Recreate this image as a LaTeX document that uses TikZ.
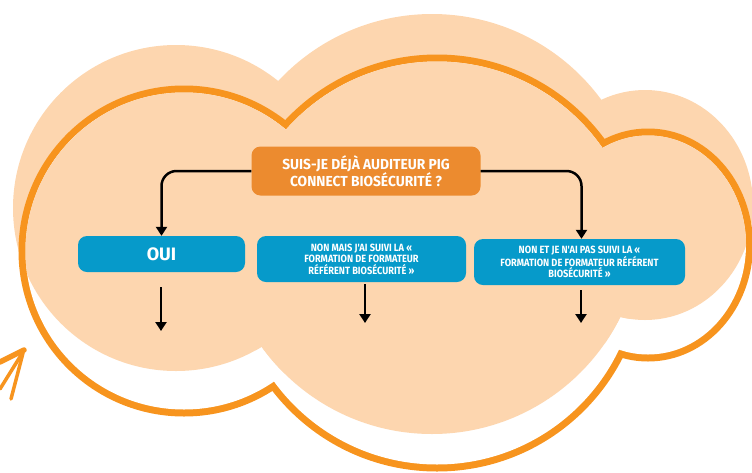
\documentclass[tikz,border=0pt]{standalone}
\usepackage{fontspec}
\setmainfont{Fira Sans}
\newfontfamily\hand[FakeStretch=0.88]{Fira Sans}
\newfontfamily\handw[FakeStretch=0.95]{Fira Sans}
\usetikzlibrary{arrows.meta}
\definecolor{peach}{RGB}{253,214,175}
\definecolor{cloudor}{RGB}{247,148,30}
\definecolor{boxor}{RGB}{236,139,47}
\definecolor{boxblue}{RGB}{6,154,202}
\begin{document}
\begin{tikzpicture}[x=1pt,y=-1pt,
  qbox/.style={fill=boxor, rounded corners=9pt, text=white, align=center,
    font=\handw\bfseries\fontsize{14.5}{12.8}\selectfont,
    minimum width=229pt, minimum height=49pt, inner sep=0pt},
  abox/.style={fill=boxblue, rounded corners=9pt, text=white, align=center,
    font=\hand\bfseries\fontsize{10.5}{11.5}\selectfont, inner sep=0pt},
  conn/.style={line width=2.5pt, -{Triangle[width=11pt,length=9pt]}, rounded corners=15pt},
  down/.style={line width=2.5pt, -{Triangle[width=11pt,length=9pt]}},
  mark/.style={cloudor, line width=#1, line cap=round},
]
\useasboundingbox (0,0) rectangle (752,472);
\clip (0,0) rectangle (752,472);
% peach cloud (background)
\def\peachcloud{(176,208) circle (163pt) (432,224) circle (210pt)
  (645,205) ellipse [x radius=108pt, y radius=115pt]}
\fill[peach] \peachcloud;
% orange outline cloud
\draw[cloudor, line width=14pt] (184,251) circle (158.5pt);
\draw[cloudor, line width=14pt] (437,263) circle (201.5pt);
\draw[cloudor, line width=14pt] (648,245) ellipse [x radius=98pt, y radius=109.5pt];
\fill[white] (184,251) circle (158.5pt);
\fill[white] (437,263) circle (201.5pt);
\fill[white] (648,245) ellipse [x radius=98pt, y radius=109.5pt];
\begin{scope}\clip (184,251) circle (158.5pt); \fill[peach] \peachcloud; \end{scope}
\begin{scope}\clip (437,263) circle (201.5pt); \fill[peach] \peachcloud; \end{scope}
\begin{scope}\clip (648,245) ellipse [x radius=98pt, y radius=109.5pt]; \fill[peach] \peachcloud; \end{scope}
% small orange arrow mark
\draw[mark=5.5pt] (0,362) -- (24,350);
\draw[mark=3.5pt] (0,389) -- (23,352);
\draw[mark=3.5pt] (11,399) -- (23,353);
% nodes
\node[qbox] (q) at (366,171) {SUIS-JE DÉJÀ AUDITEUR PIG\\CONNECT BIOSÉCURITÉ ?};
\node[abox, minimum width=167pt, minimum height=36pt,
  font=\bfseries\fontsize{18}{18}\selectfont] (oui) at (161.5,254) {OUI};
\node[abox, minimum width=209pt, minimum height=46pt] (mais) at (361.5,259)
  {NON MAIS J'AI SUIVI LA «\\FORMATION DE FORMATEUR\\RÉFÉRENT BIOSÉCURITÉ »};
\node[abox, minimum width=211pt, minimum height=46pt] (non) at (579.5,262)
  {NON ET JE N'AI PAS SUIVI LA «\\FORMATION DE FORMATEUR RÉFÉRENT\\BIOSÉCURITÉ »};
% connectors
\draw[conn] (q.west) -| (oui.north);
\draw[conn] (q.east) -| ([xshift=2pt]non.north);
\coordinate (e1) at (161,331);
\coordinate (e2) at (365,323);
\coordinate (e3) at (581,323);
\draw[down, shorten <=15pt] (oui.south -| e1) -- (e1);
\draw[down, shorten <=2pt] (mais.south -| e2) -- (e2);
\draw[down, shorten <=5pt] (non.south -| e3) -- (e3);
\end{tikzpicture}
\end{document}
